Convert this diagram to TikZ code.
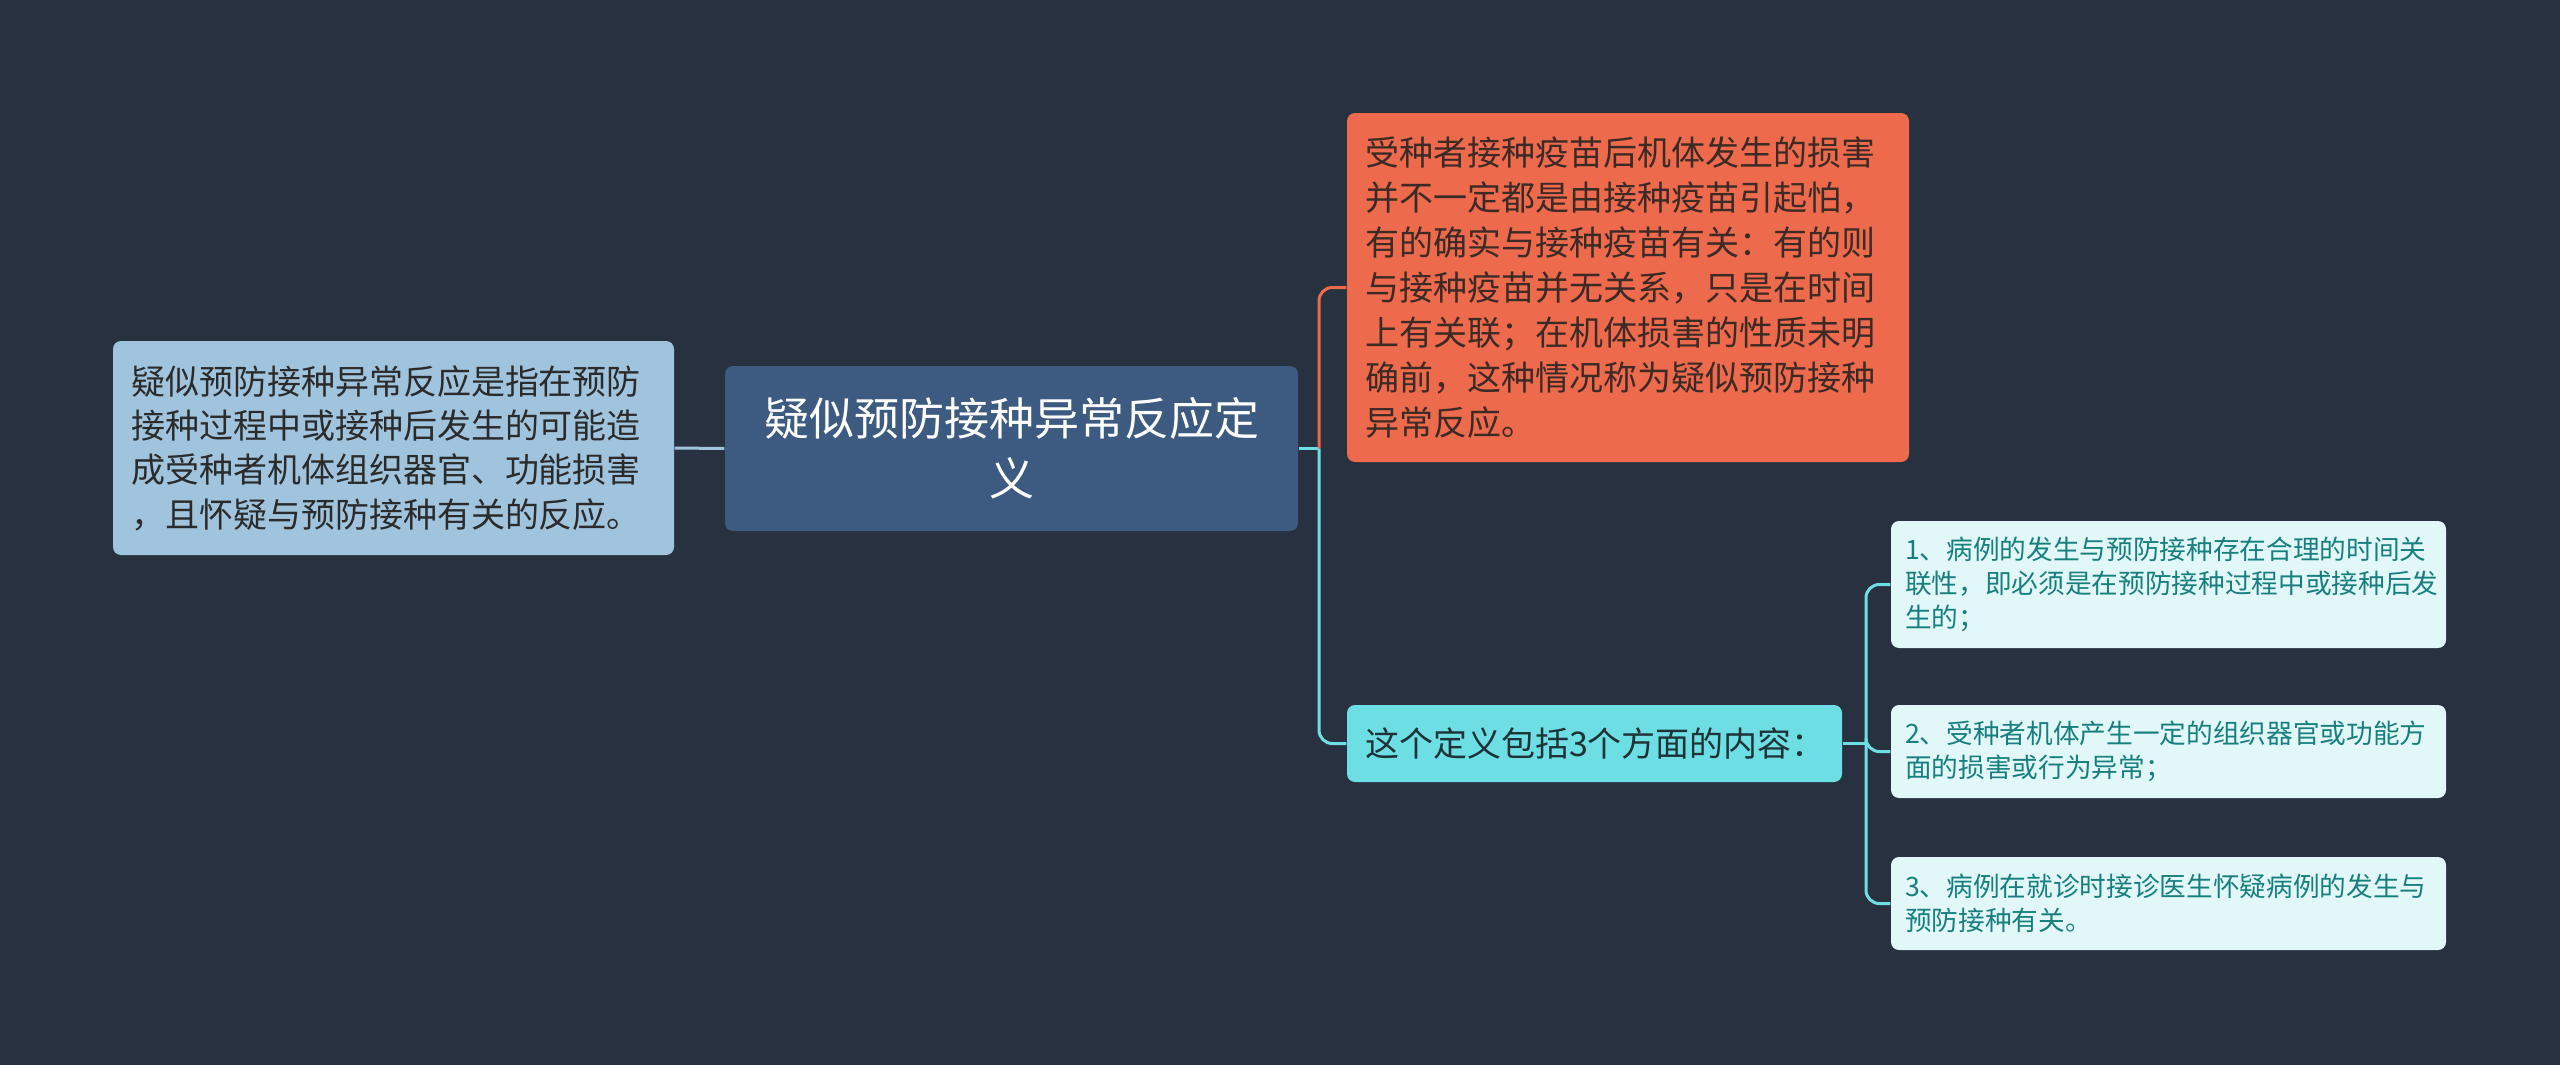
\documentclass[tikz,border=0pt]{standalone}
\usepackage{fontspec}
\setmainfont{Noto Sans CJK SC}
\definecolor{bg}{HTML}{283140}
\definecolor{lfill}{HTML}{A1C4DE}
\definecolor{cfill}{HTML}{3D5A80}
\definecolor{ofill}{HTML}{EE6A4C}
\definecolor{cyfill}{HTML}{6DDFE4}
\definecolor{sfill}{HTML}{E2F7F7}
\definecolor{stext}{HTML}{17807F}
\definecolor{ltext}{HTML}{2B2B2B}
\definecolor{otext}{HTML}{3B2A26}
\definecolor{cytext}{HTML}{1D3338}
\tikzset{
  box/.style={rounded corners=2.4pt, inner ysep=0pt, anchor=center},
  bigtext/.style={font=\fontsize{10.2pt}{13.3pt}\selectfont},
  link/.style={line width=0.9pt},
}
\begin{document}
\begin{tikzpicture}[x=0.3pt,y=-0.3pt]
\fill[bg] (0,0) rectangle (2560,1065);
\useasboundingbox (0,0) rectangle (2560,1065);
% nodes
\node[box, bigtext, fill=lfill, text=ltext, minimum width=168.3pt, minimum height=64.2pt, text width=157.5pt, inner xsep=5.4pt, align=left] (L) at (393.5,448)
 {疑似预防接种异常反应是指在预防\\接种过程中或接种后发生的可能造\\成受种者机体组织器官、功能损害\\，且怀疑与预防接种有关的反应。};
\node[box, fill=cfill, text=white, minimum width=171.9pt, minimum height=49.5pt, text width=160pt, align=center, font=\fontsize{13.5pt}{18pt}\selectfont] (C) at (1011.5,448.5)
 {疑似预防接种异常反应定\\义};
\node[box, fill=ofill, text=otext, font=\fontsize{10.2pt}{13.5pt}\selectfont, minimum width=168.6pt, minimum height=104.7pt, text width=157.8pt, inner xsep=5.4pt, align=left] (O) at (1628,287.5)
 {受种者接种疫苗后机体发生的损害\\并不一定都是由接种疫苗引起怕，\\有的确实与接种疫苗有关：有的则\\与接种疫苗并无关系，只是在时间\\上有关联；在机体损害的性质未明\\确前，这种情况称为疑似预防接种\\异常反应。};
\node[box, bigtext, fill=cyfill, text=cytext, minimum width=148.5pt, minimum height=23.1pt, text width=137.7pt, inner xsep=5.4pt, align=left] (Cy) at (1594.5,743.5)
 {这个定义包括3个方面的内容：};
\tikzset{sub/.style={box, fill=sfill, text=stext, font=\fontsize{8pt}{10.2pt}\selectfont, minimum width=166.5pt, text width=158pt, inner xsep=4.2pt, align=left}}
\node[sub, minimum height=38.1pt] (S1) at (2168.5,584.5)
 {1、病例的发生与预防接种存在合理的时间关\\联性，即必须是在预防接种过程中或接种后发\\生的；};
\node[sub, minimum height=27.9pt] (S2) at (2168.5,751.5)
 {2、受种者机体产生一定的组织器官或功能方\\面的损害或行为异常；};
\node[sub, minimum height=27.9pt] (S3) at (2168.5,903.5)
 {3、病例在就诊时接诊医生怀疑病例的发生与\\预防接种有关。};
% connectors
\coordinate (J) at (1319,448.5);
\coordinate (K) at (1866,743.5);
\draw[link, lfill] (L.east) -- (C.west);
\draw[link, cyfill] (C.east) -- (J);
\draw[link, ofill, rounded corners=4pt] (J) |- (O.west);
\draw[link, cyfill, rounded corners=4pt] (J) |- (Cy.west);
\draw[link, cyfill] (Cy.east) -- (K);
\draw[link, cyfill, rounded corners=4pt] (K) |- (S1.west);
\draw[link, cyfill, rounded corners=4pt] (K) |- (S2.west);
\draw[link, cyfill, rounded corners=4pt] (K) |- (S3.west);
\end{tikzpicture}
\end{document}
